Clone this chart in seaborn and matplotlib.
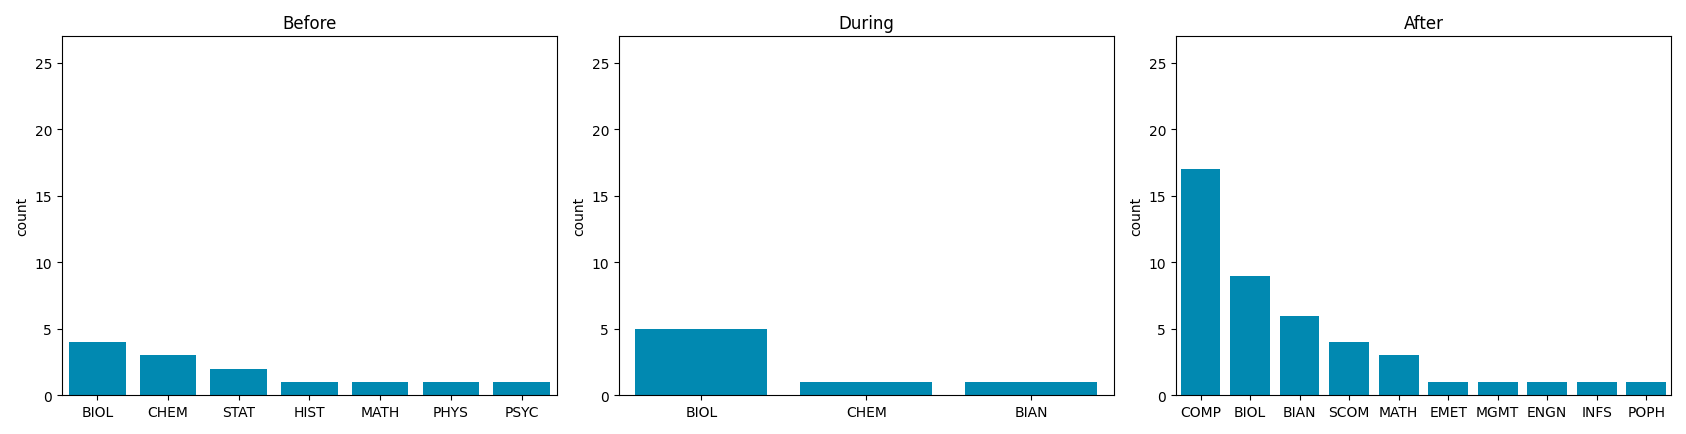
import pandas as pd
import seaborn as sns
import matplotlib.pyplot as plt

before_cats = ['BIOL', 'CHEM', 'STAT', 'HIST', 'MATH', 'PHYS', 'PSYC']
before_counts = [4, 3, 2, 1, 1, 1, 1]
during_cats = ['BIOL', 'CHEM', 'BIAN']
during_counts = [5, 1, 1]
after_cats = ['COMP', 'BIOL', 'BIAN', 'SCOM', 'MATH', 'EMET', 'MGMT', 'ENGN', 'INFS', 'POPH']
after_counts = [17, 9, 6, 4, 3, 1, 1, 1, 1, 1]

bar_color = '#0189b1'

fig, axes = plt.subplots(1, 3, figsize=(16.86, 4.35), dpi=100)
panels = [('Before', before_cats, before_counts),
          ('During', during_cats, during_counts),
          ('After', after_cats, after_counts)]

for ax, (title, cats, counts) in zip(axes, panels):
    df = pd.DataFrame({'subject': cats, 'count': counts})
    sns.barplot(data=df, x='subject', y='count', color=bar_color,
                saturation=1, width=0.8, ax=ax)
    ax.set_title(title)
    ax.set_xlabel('')
    ax.set_ylabel('count')
    ax.set_ylim(0, 27)
    ax.set_yticks([0, 5, 10, 15, 20, 25])

plt.tight_layout()
plt.savefig('out.png')
